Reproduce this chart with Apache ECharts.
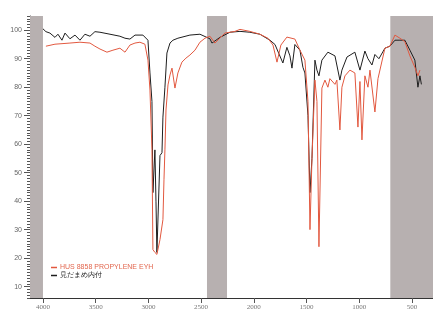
<!DOCTYPE html>
<html>
<head>
<meta charset="utf-8">
<script src="https://cdn.jsdelivr.net/npm/echarts@6/dist/echarts.min.js"></script>
<style>
  html, body { margin: 0; padding: 0; background: #fff; }
  #chart { width: 433px; height: 321px; }
</style>
</head>
<body>
<div id="chart"></div>
<script>
// 波数 (cm-1) / 透过率 (%T)
const blackWave = [4000, 3972, 3934, 3886, 3858, 3820, 3791, 3744, 3696, 3649, 3602, 3554, 3507, 3459, 3364, 3270, 3222, 3175, 3127, 3052, 3004, 2985, 2966, 2957, 2938, 2928, 2919, 2909, 2890, 2871, 2862, 2843, 2824, 2795, 2767, 2720, 2606, 2511, 2416, 2397, 2321, 2226, 2131, 2037, 1942, 1847, 1799, 1724, 1686, 1657, 1638, 1610, 1562, 1534, 1515, 1486, 1467, 1448, 1420, 1401, 1382, 1354, 1297, 1230, 1212, 1183, 1164, 1116, 1041, 993, 946, 917, 879, 851, 813, 756, 709, 661, 614, 567, 519, 472, 443, 424, 410]
const blackT = [100.5, 99.5, 99, 97.5, 98.6, 96.5, 99, 97, 98.3, 96.5, 98.6, 97.9, 99.5, 99.3, 98.6, 97.9, 97.2, 96.9, 98.3, 98.3, 96.5, 85, 75, 43, 58, 40, 22, 21.5, 56, 57, 69.5, 80, 92, 95.5, 96.5, 97.2, 98.3, 98.6, 97, 95.5, 97.5, 99.3, 99.6, 99.3, 98.6, 96.5, 95, 88.5, 94, 91, 86.7, 95, 93, 87, 85, 70, 43, 55, 89.5, 86, 84, 89.5, 92.3, 91, 90.6, 82.5, 86, 90.6, 92.3, 86, 92.7, 90, 87.8, 91.5, 90, 93.7, 94.4, 96.5, 96.5, 96.5, 93, 89.5, 80, 84, 81]

const redWave = [3972, 3886, 3744, 3649, 3554, 3507, 3459, 3393, 3336, 3270, 3222, 3175, 3127, 3080, 3033, 3004, 2985, 2966, 2957, 2938, 2919, 2890, 2862, 2852, 2843, 2833, 2814, 2795, 2776, 2748, 2720, 2682, 2644, 2606, 2558, 2511, 2463, 2416, 2369, 2274, 2179, 2131, 2037, 1942, 1866, 1818, 1780, 1743, 1686, 1610, 1562, 1515, 1486, 1467, 1448, 1420, 1401, 1382, 1354, 1325, 1297, 1278, 1230, 1212, 1183, 1164, 1135, 1088, 1041, 1012, 993, 974, 946, 917, 898, 851, 822, 756, 709, 661, 614, 567, 519, 472, 443, 424]
const redT = [94.4, 95.1, 95.5, 95.8, 95.5, 94.4, 93.4, 92.3, 93, 93.7, 92.3, 94.8, 95.5, 95.8, 95.1, 89.5, 79, 58, 23, 22, 21.3, 26.5, 33.5, 47.5, 58, 72, 80.8, 84.3, 86.7, 79.7, 85, 88.8, 90.2, 91.3, 93, 95.8, 97.2, 97.9, 95.5, 99, 99.6, 100.3, 99.6, 98.6, 97.2, 94.8, 88.8, 94.8, 97.6, 96.9, 93, 89.5, 75, 30, 55, 82.5, 75, 24, 79.7, 82.5, 80, 83, 81, 82.5, 65, 80, 84, 86, 85, 66, 82, 61.5, 84, 80, 86, 71.3, 83, 93.7, 94.4, 98.3, 97.2, 96, 91, 87, 84, 86]

const xTicks = [4000, 3500, 3000, 2500, 2000, 1500, 1000, 500]
const yTicks = [10, 20, 30, 40, 50, 60, 70, 80, 90, 100]
const grayBands = [[4123, 4000], [2444, 2254], [705, 300]]

const seriesNames = ['HUS 8858 PROPYLENE EYH', '見だまめ内付']

var myChart = echarts.init(document.getElementById('chart'))

function pairs(xs, ys) {
  return xs.map((x, i) => [x, ys[i]])
}

let option = {
  animation: false,
  grid: { left: 30, right: 0, top: 16, bottom: 23 },
  legend: {
    orient: 'vertical',
    left: 46,
    top: 259,
    itemGap: 1,
    itemWidth: 6,
    itemHeight: 1.5,
    icon: 'rect',
    data: [
      { name: seriesNames[0], textStyle: { color: '#e2674f' } },
      { name: seriesNames[1], textStyle: { color: '#222' } }
    ],
    textStyle: { fontSize: 7, fontFamily: 'Liberation Sans', padding: [0, 0, 0, -2] }
  },
  xAxis: {
    type: 'value',
    inverse: true,
    min: 300,
    max: 4123,
    splitLine: { show: false },
    axisLine: { onZero: false, lineStyle: { color: '#333', width: 1.2 } },
    axisTick: { customValues: xTicks, length: 5, lineStyle: { color: '#555' } },
    axisLabel: {
      customValues: xTicks,
      formatter: v => String(v),
      fontSize: 7,
      color: '#777',
      margin: 6,
      fontFamily: 'Liberation Serif'
    }
  },
  yAxis: [
    {
      type: 'value',
      min: 6,
      max: 105,
      interval: 1,
      splitLine: { show: false },
      axisLine: { show: true, lineStyle: { color: '#444' } },
      axisTick: { length: 3, lineStyle: { color: '#555' } },
      axisLabel: { show: false }
    },
    {
      type: 'value',
      min: 6,
      max: 105,
      position: 'left',
      splitLine: { show: false },
      axisLine: { show: false },
      axisTick: { customValues: yTicks, length: 6, lineStyle: { color: '#555' } },
      axisLabel: { customValues: yTicks, fontSize: 7, color: '#666', margin: 8, fontFamily: 'Liberation Sans' }
    }
  ],
  series: [
    {
      name: seriesNames[1],
      type: 'line',
      data: pairs(blackWave, blackT),
      color: '#1e1e1e',
      symbol: 'none',
      lineStyle: { width: 1 },
      z: 3,
      markArea: {
        silent: true,
        itemStyle: { color: '#b7b0b0' },
        data: grayBands.map(b => [{ xAxis: b[0] }, { xAxis: b[1] }])
      }
    },
    {
      name: seriesNames[0],
      type: 'line',
      data: pairs(redWave, redT),
      color: '#e2583f',
      symbol: 'none',
      lineStyle: { width: 1 },
      z: 4
    }
  ]
}

myChart.setOption(option)
</script>
</body>
</html>
